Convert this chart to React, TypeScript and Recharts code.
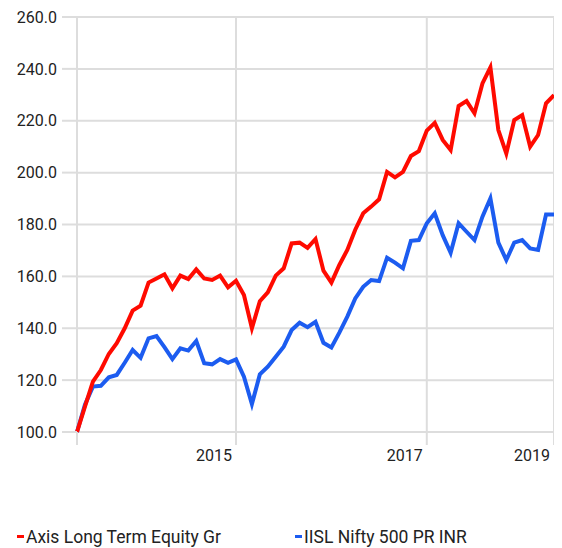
import React from "react";
import { LineChart, Line, XAxis, YAxis, CartesianGrid } from "recharts";

const seriesNames = ["Axis Long Term Equity Gr", "IISL Nifty 500 PR INR"];
const seriesColors = ["#ff0a00", "#1c5cf0"];

const axisValues = [
  100, 109.8, 119.4, 123.9, 130.1, 134.2, 140.0, 146.8, 148.7, 157.6,
  159.2, 160.8, 155.4, 160.3, 159.0, 162.7, 159.2, 158.6, 160.3, 155.8,
  158.3, 152.8, 140.0, 150.4, 153.8, 160.3, 163.1, 172.7, 173.0, 171.0,
  174.4, 162.2, 157.6, 164.4, 170.2, 178.0, 184.3, 186.9, 189.7, 200.3,
  198.2, 200.3, 206.4, 208.3, 216.2, 219.2, 212.6, 208.7, 225.7, 227.6,
  222.9, 234.4, 240.6, 216.4, 207.4, 220.3, 222.2, 210.0, 214.5, 226.7,
  229.9,
];

const niftyValues = [
  100, 110.5, 117.5, 117.8, 121.1, 122.0, 126.7, 131.6, 128.6, 136.1,
  137.0, 132.7, 128.1, 132.3, 131.4, 135.1, 126.5, 126.1, 128.1, 126.7,
  128.0, 121.3, 110.8, 122.2, 125.2, 129.0, 132.9, 139.3, 142.1, 140.4,
  142.5, 134.4, 132.6, 138.3, 144.5, 151.5, 156.0, 158.6, 158.2, 167.2,
  165.3, 163.1, 173.7, 174.0, 180.5, 184.3, 175.9, 169.1, 180.5, 177.2,
  174.0, 183.0, 190.1, 173.0, 166.3, 173.0, 174.0, 170.8, 170.2, 183.9,
  183.9,
];

const xTickIndex = [0, 20, 44, 60];
const xTickLabels = ["", "2015", "2017", "2019"];
const yTicks = [100, 120, 140, 160, 180, 200, 220, 240, 260];

const data = axisValues.map((v, i) => ({ idx: i, axis: v, nifty: niftyValues[i] }));

const FONT = "Roboto, 'Liberation Sans', sans-serif";
const GRID = "#dddddd";
const TEXT = "#222222";

const XTick = (props: any) => {
  const { x, y, payload } = props;
  const pos = xTickIndex.indexOf(payload.value);
  const label = pos >= 0 ? xTickLabels[pos] : "";
  return (
    <text x={x - 4} y={y} dy="0.71em" textAnchor="end" fill={TEXT} fontSize={16} fontFamily={FONT}>
      {label}
    </text>
  );
};

export default function App() {
  return (
    <div style={{ position: "relative", width: 554, height: 540, fontFamily: FONT }}>
      <div style={{ position: "absolute", left: -8, top: 222, width: 2, height: 43, background: "#b0245c" }} />
      <LineChart width={550} height={460} data={data} margin={{ top: 9, right: 4, left: 0, bottom: 0 }}>
        <CartesianGrid stroke={GRID} strokeWidth={2} />
        <XAxis
          dataKey="idx"
          type="number"
          domain={[0, 60]}
          ticks={xTickIndex}
          interval={0}
          height={36}
          axisLine={false}
          tickLine={{ stroke: GRID, strokeWidth: 2 }}
          tickSize={13}
          tickMargin={5}
          tick={<XTick />}
        />
        <YAxis
          domain={[100, 260]}
          ticks={yTicks}
          interval={0}
          width={69}
          axisLine={false}
          tickLine={{ stroke: GRID, strokeWidth: 2 }}
          tickSize={15}
          tickMargin={5}
          tickFormatter={(v: number) => v.toFixed(1)}
          tick={{ fill: TEXT, fontSize: 16, fontFamily: FONT }}
        />
        <Line
          type="linear"
          dataKey="nifty"
          name={seriesNames[1]}
          stroke={seriesColors[1]}
          strokeWidth={4}
          dot={false}
          activeDot={false}
          isAnimationActive={false}
        />
        <Line
          type="linear"
          dataKey="axis"
          name={seriesNames[0]}
          stroke={seriesColors[0]}
          strokeWidth={4}
          dot={false}
          activeDot={false}
          isAnimationActive={false}
        />
      </LineChart>
      {seriesNames.map((name, i) => (
        <div
          key={name}
          style={{
            position: "absolute",
            top: 519,
            left: i === 0 ? 9 : 287,
            height: 20,
            lineHeight: "20px",
            fontSize: 17.5,
            color: TEXT,
            whiteSpace: "nowrap",
            paddingLeft: 9,
          }}
        >
          <span
            style={{
              position: "absolute",
              left: 0,
              top: 8,
              width: 7,
              height: 3,
              background: seriesColors[i],
            }}
          />
          {name}
        </div>
      ))}
    </div>
  );
}
